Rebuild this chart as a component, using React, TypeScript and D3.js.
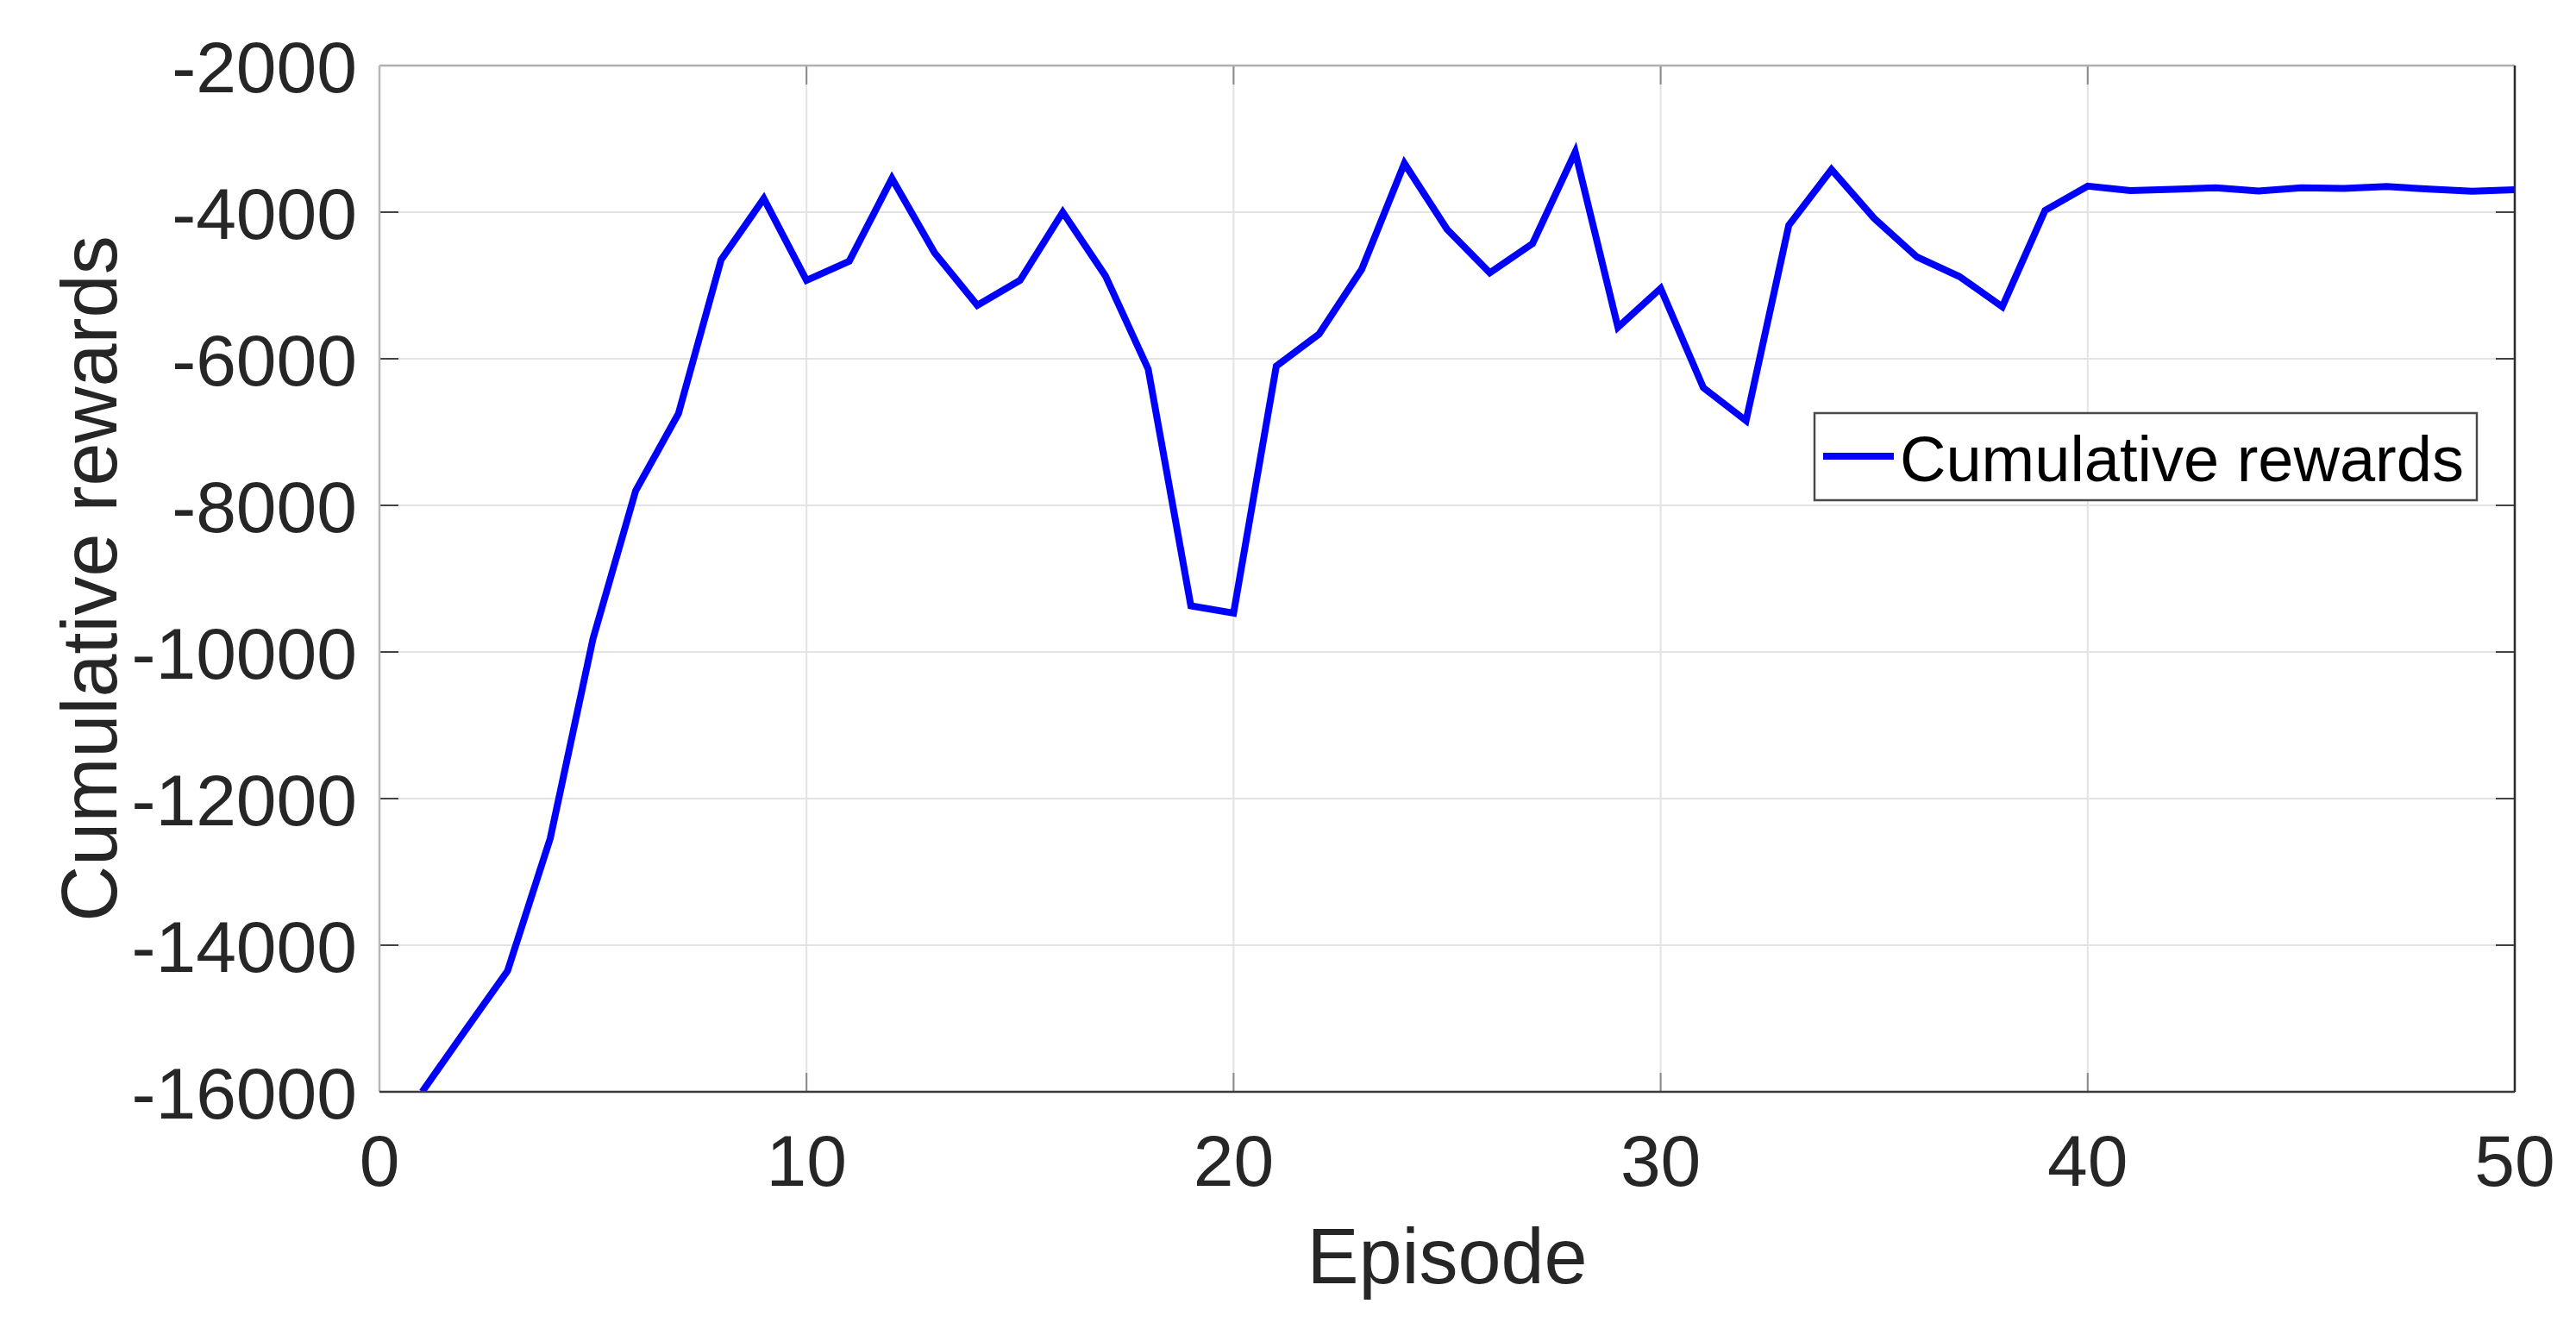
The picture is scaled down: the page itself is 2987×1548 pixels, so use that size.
import React from "react";
import * as d3 from "d3";

const episodes = Array.from({ length: 50 }, (_, i) => i + 1);
const rewards = [
  -16000, -15170, -14350, -12540, -9820, -7800, -6750, -4650, -3815, -4930,
  -4670, -3540, -4555, -5270, -4930, -4000, -4870, -6140, -9370, -9470,
  -6100, -5665, -4780, -3335, -4235, -4828, -4430, -3180, -5570, -5040,
  -6395, -6845, -4180, -3418, -4085, -4610, -4880, -5290, -3978, -3645,
  -3705, -3688, -3668, -3712, -3668, -3676, -3650, -3686, -3714, -3694,
];
const xTicks = [0, 10, 20, 30, 40, 50];
const yTicks = [-16000, -14000, -12000, -10000, -8000, -6000, -4000, -2000];
const xLabel = "Episode";
const yLabel = "Cumulative rewards";
const legendLabel = "Cumulative rewards";

const W = 2987;
const H = 1548;
const L = 440, R = 2916, T = 76, B = 1266;
const FONT = "'Liberation Sans', Arial, Helvetica, sans-serif";
const TEXT = "#262626";

export default function App() {
  const x = d3.scaleLinear().domain([0, 50]).range([L, R]);
  const y = d3.scaleLinear().domain([-16000, -2000]).range([B, T]);
  const line = d3
    .line<number>()
    .x((_, i) => x(episodes[i]))
    .y((d) => y(d));
  const tickLen = 22;

  return (
    <svg
      width={W}
      height={H}
      style={{ position: "absolute", left: 0, top: 0, display: "block", background: "#fff" }}
    >
      <rect x={0} y={0} width={W} height={H} fill="#fff" />
      <defs>
        <clipPath id="plotclip">
          <rect x={L} y={T} width={R - L} height={B - T} />
        </clipPath>
      </defs>
      {/* grid */}
      {xTicks.slice(1, -1).map((t) => (
        <line key={"gx" + t} x1={x(t)} x2={x(t)} y1={T} y2={B} stroke="#e3e3e3" strokeWidth={2} />
      ))}
      {yTicks.slice(1, -1).map((t) => (
        <line key={"gy" + t} x1={L} x2={R} y1={y(t)} y2={y(t)} stroke="#e3e3e3" strokeWidth={2} />
      ))}
      {/* ticks */}
      {xTicks.slice(1, -1).map((t) => (
        <g key={"tx" + t}>
          <line x1={x(t)} x2={x(t)} y1={B} y2={B - tickLen} stroke="#8a8a8a" strokeWidth={2} />
          <line x1={x(t)} x2={x(t)} y1={T} y2={T + tickLen} stroke="#8a8a8a" strokeWidth={2} />
        </g>
      ))}
      {yTicks.slice(1, -1).map((t) => (
        <g key={"ty" + t}>
          <line x1={L} x2={L + tickLen} y1={y(t)} y2={y(t)} stroke="#444" strokeWidth={2} />
          <line x1={R} x2={R - tickLen} y1={y(t)} y2={y(t)} stroke="#444" strokeWidth={2} />
        </g>
      ))}
      {/* data line */}
      <path
        d={line(rewards) || ""}
        fill="none"
        stroke="#0000ff"
        strokeWidth={8}
        strokeLinejoin="miter"
        clipPath="url(#plotclip)"
      />
      {/* axes box */}
      <line x1={L} x2={R} y1={T} y2={T} stroke="#b0b0b0" strokeWidth={2.5} />
      <line x1={L} x2={L} y1={T} y2={B} stroke="#b8b8b8" strokeWidth={2.5} />
      <line x1={L} x2={R} y1={B} y2={B} stroke="#3a3a3a" strokeWidth={2.5} />
      <line x1={R} x2={R} y1={T} y2={B} stroke="#2a2a2a" strokeWidth={2.5} />
      {/* tick labels */}
      {xTicks.map((t) => (
        <text
          key={"lx" + t}
          x={x(t)}
          y={B + 109}
          textAnchor="middle"
          fontFamily={FONT}
          fontSize={84}
          fill={TEXT}
        >
          {t}
        </text>
      ))}
      {yTicks.map((t) => (
        <text
          key={"ly" + t}
          x={L - 26}
          y={y(t) + 31}
          textAnchor="end"
          fontFamily={FONT}
          fontSize={84}
          fill={TEXT}
        >
          {t}
        </text>
      ))}
      {/* axis labels */}
      <text
        x={(L + R) / 2}
        y={1488}
        textAnchor="middle"
        fontFamily={FONT}
        fontSize={90}
        fill={TEXT}
      >
        {xLabel}
      </text>
      <text
        transform={`translate(135, ${(T + B) / 2}) rotate(-90)`}
        textAnchor="middle"
        fontFamily={FONT}
        fontSize={90}
        fill={TEXT}
      >
        {yLabel}
      </text>
      {/* legend */}
      <rect x={2104} y={479} width={768} height={101} fill="#fff" stroke="#4a4a4a" strokeWidth={2.5} />
      <line x1={2114} x2={2196} y1={529} y2={529} stroke="#0000ff" strokeWidth={8} />
      <text x={2203} y={558} fontFamily={FONT} fontSize={74} fill="#000">
        {legendLabel}
      </text>
    </svg>
  );
}
